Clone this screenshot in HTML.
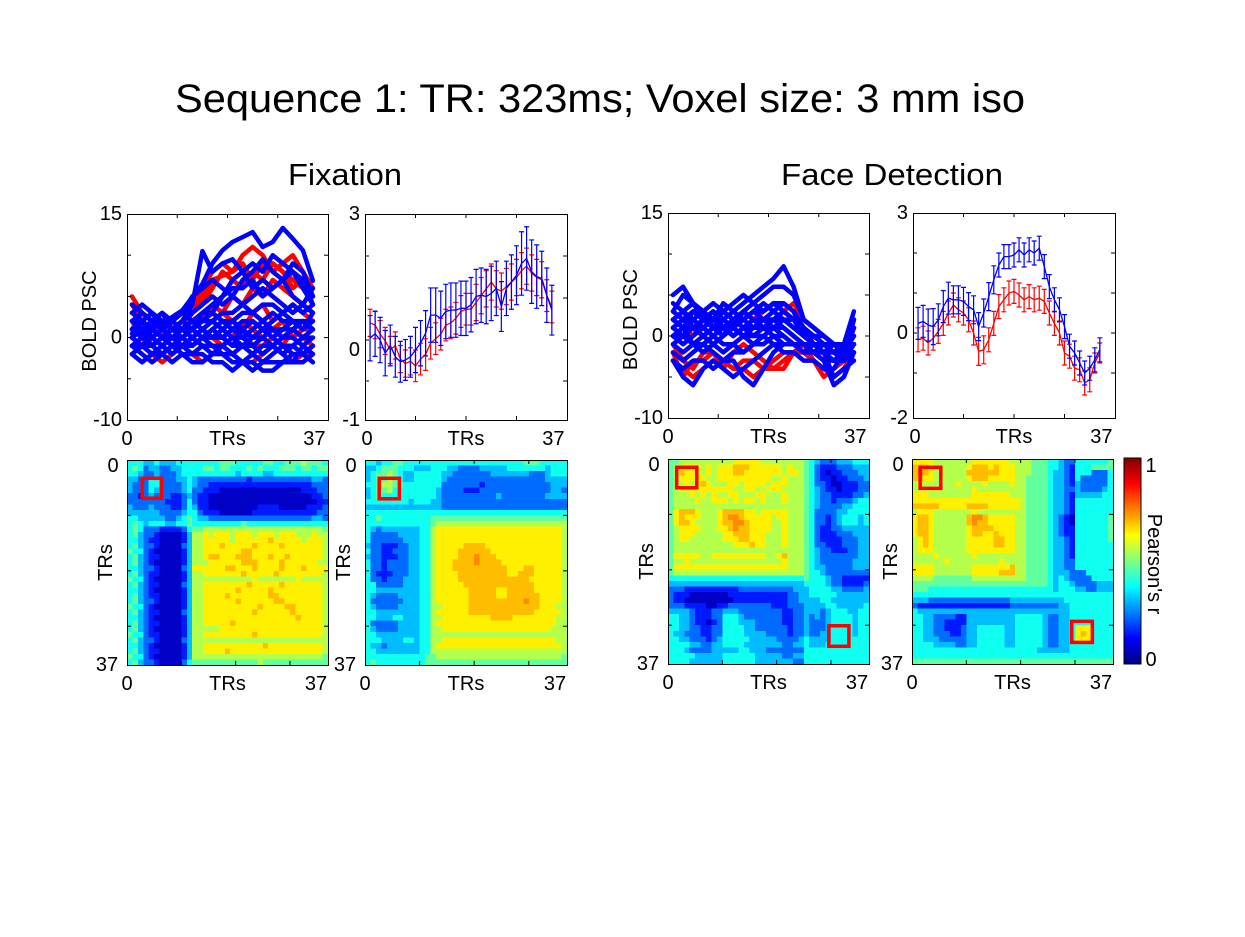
<!DOCTYPE html>
<html><head><meta charset="utf-8"><style>
html,body{margin:0;padding:0;background:#fff;}
svg{display:block;font-family:"Liberation Sans",Arial,sans-serif;}
</style></head><body>
<svg id="fig" width="1245" height="937" viewBox="0 0 1245 937" xmlns="http://www.w3.org/2000/svg">
<rect x="0" y="0" width="1245" height="937" fill="#fff"/>
<text x="175" y="112" font-size="40" textLength="850" lengthAdjust="spacingAndGlyphs">Sequence 1: TR: 323ms; Voxel size: 3 mm iso</text>
<text x="288" y="185" font-size="31" textLength="114" lengthAdjust="spacingAndGlyphs">Fixation</text>
<text x="781" y="185" font-size="31" textLength="222" lengthAdjust="spacingAndGlyphs">Face Detection</text>
<g id="layer"></g>
</svg>
<script>
// ---------- DATA ----------
const TR_SPAGHETTI = [1,3,5,7,9,11,13,15,17,19,21,23,25,27,29,31,33,35,37];
const TR_MEAN = [1,2,3,4,5,6,7,8,9,10,11,12,13,14,15,16,17,18,19,20,21,22,23,24,25,26,27,28,29,30,31,32,33,34,35,36,37];

const fixRedLines = [
 [1,3,2,0,1,2,4,6,8,9,8,10,11,10,8,9,10,8,6],
 [2,0,1,2,1,2,3,5,7,7.5,8,9,7,9,9,8,7,6,5],
 [0,1,-1,0,-1,0,1,2,4,3,5,4,6,5,7,6,5,4,3],
 [-2,-1,-2,-3,-2,-1,-2,-3,-2,-1,-2,-3,-3,-2,-1,-2,-3,-2,-2],
 [1,2,0,1,0,1,0,1,0,1,0,2,1,0,1,2,0,1,1],
 [0,-1,1,0,-1,-1,0,1,0,-1,0,1,-1,-1,0,-1,1,0,-1],
 [4,2,1,0,2,1,3,4,6,8,7,6,8,7,9,8,6,7,5],
 [5,3,2,1,0,-1,0,1,2,3,2,1,3,4,2,3,4,3,2]
];
const fixBlueLines = [
 [0.5,0.9,1.3,1.7,2.5,3.3,4.9,6.5,9,10.6,11.6,12.2,12.8,11,11.6,13.3,12,10.6,6.9],
 [1,0.5,1,0,1,2,4,10.5,8,9,9.5,8,9,8,10,9,8,6,4],
 [2,3,2,1,2,3,5,6,7,6,5,7,8,9.5,8,7,9,8,5],
 [3,4,3,2,1,2,3,4,5,4,5,4,5,6,5,4,3,4,3],
 [0,1,2,1,0,1,2,2,3,2,2,3,3,2,3,2,2,1,2],
 [-1,0,1,0,-1,0,1,0,1,2,1,0,1,2,1,0,1,2,1],
 [-2,-1,-2,-1,-2,-1,-2,-1,-1,-2,-2,-3,-2,-3,-2,-1,-2,-2,-1],
 [-1,-2,-3,-2,-1,-2,-3,-3,-2,-2,-3,-3,-4,-3,-3,-3,-2,-2,-3],
 [1,0,-1,0,1,0,-1,0,0,1,0,-1,-1,0,-1,0,0,-1,0],
 [2,1,2,3,2,1,0,1,2,1,2,1,0,1,2,3,2,1,3],
 [0,2,1,0,0,1,1,3,4,5,6,6,7,5,6,7,5,4,6],
 [-1,-1,0,1,0,-1,-1,0,-1,-1,0,0,-1,-2,-1,-2,-3,-1,-2],
 [1,2,0,-1,0,0,1,2,3,5,7,8,6,7,6,7,8,7,4],
 [4,3,2,3,1,2,1,2,2,3,3,4,3,4,4,3,4,3,4],
 [3,2,3,1,0,0,-1,0,1,0,-1,-1,0,1,0,-1,-1,0,1],
 [-2,-3,-2,-2,-3,-2,-2,-2,-3,-3,-4,-3,-3,-4,-4,-3,-3,-3,-2],
 [0,-1,-1,-2,-1,-1,0,-1,-2,-1,-2,-1,-2,-1,-1,-2,-1,-2,-1],
 [2,2,1,2,2,3,2,3,3,2,1,2,2,1,1,0,1,2,2],
 [-1,0,0,-1,-2,-1,0,1,0,0,-1,1,2,1,0,1,1,0,0],
 [1,1,2,2,1,1,2,1,0,0,1,1,0,0,1,1,2,2,1]
];
const faceRedLines = [
 [-3,-4,-5,-4,-3,-3,-4,-3,-3,-4,-4,-3,-2,-2,-3,-4,-5,-4,-2],
 [-1,-3,-4,-2,-2,-4,-2,-1,-2,-3,-4,-4,-2,-1,-3,-5,-4,-3,1],
 [0,1,0,2,1,3,2,1,2,3,4,3,2,1,0,-1,-2,-3,2],
 [2,3,1,0,1,0,2,3,2,1,2,3,4,2,1,0,-1,-2,0],
 [-2,-5,-3,-3,-2,-3,-4,-4,-5,-4,-3,-2,-2,-2,-3,-4,-4,-3,-3]
];
const faceBlueLines = [
 [5,6,4,2,3,2,3,4,5,6,7,8.5,6,2,1,0,-1,-2,2],
 [3,5,4,3,4,3,4,5,4,5,6,6,5,2,1,0,-1,-1,3],
 [-3,-5,-6,-4,-3,-4,-5,-4,-3,-2,-1,-1,-1,-1,-2,-3,-6,-5,-2],
 [-3,-4,-3,-3,-4,-3,-3,-5,-6,-4,-2,-1,-1,-1,-2,-2,-5,-4,-3],
 [1,2,1,2,3,2,1,2,3,2,3,2,1,0,0,-1,-1,-2,-1],
 [0,-1,0,1,0,1,0,1,2,1,1,0,-1,-1,-2,-2,-2,-3,-2],
 [2,3,2,1,2,3,2,3,4,3,4,3,2,1,0,0,-1,-2,0],
 [-1,-2,-1,0,-1,0,1,0,0,1,0,-1,-1,-2,-2,-3,-3,-3,-2],
 [4,3,4,3,2,4,3,2,3,4,3,4,3,0,-1,-1,-2,-1,1],
 [-2,-3,-2,-1,-2,-3,-2,-2,-1,-1,0,0,-1,-2,-1,-2,-3,-3,-1],
 [1,0,2,3,1,0,2,1,1,2,2,1,0,-1,-1,-1,-2,-1,0],
 [0,1,-1,-2,-1,-2,-1,0,-1,0,-1,-2,-2,-3,-3,-4,-4,-2,-1],
 [2,1,3,2,1,2,1,3,2,2,1,2,2,1,-1,-2,-2,-2,1],
 [3,2,1,2,3,1,2,2,3,3,4,4,3,1,0,-1,-2,-2,2],
 [1,2,3,2,1,1,2,2,1,2,2,3,2,0,0,-1,-1,-1,0],
 [-1,0,-1,-1,0,-1,-1,-2,-1,-1,0,-1,-1,-2,-2,-2,-3,-2,-1],
 [2,1,1,0,1,2,1,0,1,1,2,2,1,0,-1,-2,-1,-1,1],
 [0,0,1,1,2,1,0,1,0,0,1,1,0,-1,-2,-1,-2,-3,-1]
];

const fixMeanRed = [0.6,0.55,0.35,0.2,0.0,0.1,-0.2,-0.3,-0.25,-0.35,-0.2,-0.1,0.15,0.25,0.35,0.55,0.6,0.7,0.85,0.9,0.9,1.05,1.2,1.35,1.5,1.35,1.3,1.4,1.5,1.6,1.75,1.85,1.7,1.6,1.55,1.2,0.95];
const fixErrRed = [0.3,0.3,0.3,0.3,0.3,0.3,0.3,0.3,0.3,0.35,0.35,0.35,0.35,0.35,0.35,0.35,0.35,0.35,0.35,0.35,0.35,0.4,0.4,0.4,0.4,0.4,0.4,0.4,0.4,0.4,0.4,0.4,0.4,0.4,0.4,0.35,0.35];
const fixMeanBlue = [0.26,0.36,0.22,-0.07,0.1,-0.15,-0.26,-0.22,-0.15,0.0,0.15,0.37,0.77,0.77,0.7,0.85,0.88,0.88,0.92,0.92,1.0,1.18,1.21,1.18,1.25,1.36,0.96,1.36,1.5,1.65,1.91,2.02,1.73,1.62,1.58,1.21,0.88];
const fixErrBlue = [0.5,0.5,0.5,0.5,0.45,0.45,0.45,0.45,0.45,0.5,0.5,0.5,0.6,0.6,0.6,0.6,0.6,0.6,0.6,0.6,0.6,0.6,0.6,0.6,0.6,0.6,0.55,0.6,0.6,0.65,0.7,0.7,0.7,0.7,0.6,0.6,0.55];
const faceMeanRed = [-0.17,-0.13,-0.25,-0.13,0.04,0.24,0.5,0.7,0.58,0.5,0.33,0.0,-0.46,-0.42,-0.17,0.24,0.66,0.83,1.0,1.04,0.95,0.83,0.91,0.83,0.87,0.79,0.5,0.24,0.0,-0.5,-0.58,-0.88,-0.92,-1.25,-1.17,-0.75,-0.5];
const faceErrRed = [0.3,0.3,0.3,0.3,0.3,0.3,0.3,0.3,0.3,0.3,0.3,0.3,0.35,0.35,0.3,0.3,0.3,0.3,0.3,0.3,0.3,0.3,0.3,0.3,0.3,0.3,0.3,0.3,0.3,0.3,0.3,0.3,0.3,0.3,0.3,0.25,0.25];
const faceMeanBlue = [0.24,0.29,0.2,0.16,0.33,0.66,0.87,0.83,0.83,0.79,0.66,0.58,0.16,0.5,0.91,1.33,1.7,1.91,1.91,1.95,2.08,1.95,2.08,2.0,2.12,1.66,1.16,0.83,0.58,0.16,-0.33,-0.5,-0.75,-1.0,-0.88,-0.67,-0.42];
const faceErrBlue = [0.4,0.4,0.4,0.45,0.4,0.4,0.4,0.35,0.35,0.35,0.35,0.35,0.35,0.35,0.35,0.35,0.3,0.3,0.3,0.3,0.3,0.3,0.3,0.3,0.3,0.3,0.3,0.3,0.3,0.3,0.3,0.3,0.3,0.3,0.3,0.3,0.3];

// heatmap level codes: digit -> Pearson's r
const LEVELS = [0.07,0.15,0.23,0.31,0.39,0.47,0.55,0.64,0.69,0.74];
const heatFixLeft = [
 "44"+"4"+"33433344"+"44"+"444455544444554455565554",
 "45"+"4"+"23322334"+"44"+"455455444545444555455455",
 "44"+"3"+"22322234"+"44"+"444444434444334444444444",
 "33"+"2"+"24422233"+"43"+"222222222122222222222332",
 "32"+"2"+"24422223"+"43"+"221111111111111111111222",
 "32"+"2"+"24322223"+"42"+"211100000000000000011122",
 "22"+"1"+"23222112"+"32"+"110000000000000000000112",
 "22"+"2"+"22221112"+"42"+"110000000000000000000011",
 "32"+"2"+"23222112"+"43"+"110000000001111000001112",
 "33"+"3"+"33322223"+"44"+"211100000011111111111122",
 "44"+"3"+"33332234"+"54"+"332222222222222222222332",
 "45"+"4"+"34443344"+"54"+"444444445444444444444444",
 "45"+"4"+"22211112"+"45"+"566666666666666666666665",
 "45"+"3"+"22100001"+"36"+"676777677767776777666766",
 "44"+"3"+"21100001"+"36"+"677777677777787777767776",
 "45"+"3"+"22100002"+"36"+"677787777787777877777776",
 "54"+"4"+"21000001"+"36"+"677777778877777777777776",
 "45"+"3"+"21100001"+"36"+"678877788877787787777776",
 "45"+"3"+"21000001"+"36"+"667777778887777877777766",
 "44"+"3"+"22100002"+"37"+"777778877787777877787777",
 "45"+"3"+"21100001"+"36"+"677777778777778777777776",
 "54"+"4"+"21000001"+"36"+"666666666676666666766666",
 "45"+"3"+"21100002"+"36"+"677777777877777877777776",
 "44"+"3"+"21000001"+"36"+"677777787777787777777776",
 "45"+"3"+"21100001"+"36"+"677778777777788777777776",
 "45"+"3"+"22100001"+"36"+"677777787777778877777776",
 "54"+"4"+"21000001"+"36"+"677777777778777788777776",
 "45"+"3"+"21100002"+"36"+"677777777787777778777776",
 "44"+"3"+"21000001"+"36"+"677777777777777777877776",
 "45"+"3"+"21100001"+"36"+"677777877777777777777776",
 "45"+"3"+"21000001"+"36"+"666677777777777777777776",
 "54"+"4"+"21100001"+"36"+"677777777787777777777776",
 "45"+"3"+"22100002"+"36"+"666666666666666666666666",
 "44"+"3"+"21000001"+"36"+"677777777777877777777776",
 "45"+"3"+"21100001"+"36"+"677778777777777777777776",
 "54"+"4"+"21000001"+"36"+"666666666666666666666665",
 "45"+"3"+"22100002"+"45"+"555555555556555555555555"
];
const heatFixRight = [
 "443445544444"+"4444444444444444455544444",
 "334555444333"+"4443322223333344444443444",
 "345565433444"+"4433222222233333332223444",
 "345565433444"+"4432222222222222222223333",
 "445665544444"+"4422222221222222222222333",
 "345564444444"+"4322221112222222222222332",
 "345444444444"+"4322222222223222222223333",
 "444444443444"+"3322222222222222222222222",
 "333333333333"+"3322222222222222222222222",
 "444444444444"+"4444444444444444444444444",
 "445444444444"+"5555555555555555555555555",
 "444444444444"+"5666666666666666666666666",
 "432333333344"+"6777777777777777777777776",
 "422222333344"+"6777777777777777777777776",
 "422222233344"+"6777777777777777777777776",
 "322111223344"+"6777778888777777777777776",
 "422112223344"+"6777788888877777777777776",
 "322111223344"+"6777788898887777777777776",
 "422122223344"+"6777888898888777777777776",
 "422122223344"+"6777888888888877788777776",
 "421112223344"+"6777788888888877888777776",
 "422122233344"+"6777788888888888887777776",
 "442222233344"+"6777778888888888888777776",
 "443333333344"+"6777777888887788888777776",
 "432222333344"+"6777777888887788888877776",
 "422222233344"+"6777777888888888898877776",
 "432222333344"+"6677777888888888888877766",
 "443333333344"+"6777777888888888888777776",
 "443334433344"+"6677777777788887777777766",
 "422222333344"+"6777777777777777777777766",
 "432222333344"+"6677777777777777777777666",
 "443333333344"+"6666666666666666666666666",
 "444333344344"+"6677777777777777777777766",
 "433233333344"+"6777777777777777777777776",
 "443333333344"+"6666666666666666666666666",
 "444444444445"+"5666666666666666666666665",
 "454444444445"+"5555555555555555555555555"
];
const heatFaceLeft = [
 "55666666666677777666666665"+"43222333444",
 "56777767677788877777767665"+"42111222333",
 "56877767677788777777767765"+"42101122233",
 "56777776677777777776676665"+"42110112223",
 "56676787666776777767776665"+"42210011122",
 "56777777777766776677766665"+"43211011122",
 "56667676766776667766676665"+"43221111223",
 "56666766777676776766676665"+"43221222344",
 "56666666666666666666666665"+"43222233444",
 "57888766678888776777776665"+"42222334444",
 "57877766678998777776776665"+"42212344434",
 "57887666678899877776676665"+"42212344434",
 "56777766677898877776676665"+"42112233333",
 "56777666667788877766676665"+"42111222333",
 "56776666667778877766676665"+"42111122233",
 "56666666666677787766676665"+"42211122233",
 "56666666666666666666666665"+"43221112233",
 "57777766777777777766786665"+"43222222233",
 "56676666666666666666676665"+"43222222333",
 "57777777777777777777776665"+"43322222333",
 "56666666666666666666666665"+"44322222222",
 "44444444444444444444444445"+"44432211111",
 "33333333333333333333333334"+"44432211112",
 "22211111111112222222222333"+"44443322223",
 "21110000000111111111112233"+"44444333333",
 "21100000000011111111112233"+"33443333333",
 "22211110011222222221112223"+"33344333334",
 "33332111223332222222211223"+"33234443344",
 "44332111224443222222211223"+"23234444344",
 "44332110124443332222211223"+"22234444344",
 "44332211224444332222221223"+"22234444344",
 "43322211224444333322221223"+"22334444344",
 "44332221234444433333222234"+"33334444444",
 "44443322334444333333322334"+"33344444444",
 "44432222333334433322222224"+"44444444444",
 "44444333334444443333322334"+"44444444444",
 "44443333334444443333333224"+"44444444444"
];
const heatFaceRight = [
 "777766666667777777666655544"+"3224444445",
 "888766666678887877766655544"+"3214445555",
 "898766666688888877766655543"+"3214442224",
 "887766666678887777766555543"+"3214222224",
 "676666667666676666766555543"+"3213222224",
 "666676666667666666666555543"+"3223222234",
 "777666666667777777666555543"+"3213333344",
 "777777777777777777776555543"+"3214444444",
 "888887777788887777776555543"+"3214444444",
 "677766666667666666666555543"+"3214444444",
 "788766666689987777766555543"+"2104444445",
 "788766666689887777766555543"+"2104444445",
 "788766666678888777766555543"+"2114444445",
 "788766666678877877766555543"+"2114444445",
 "678766666677777887766555543"+"3214444445",
 "678766666677777887766555543"+"3214444444",
 "677766666677777777766555543"+"3214444444",
 "666676666667666666666555543"+"3214444444",
 "666666766666666676666555543"+"3224444444",
 "777766666667777777866555543"+"3224444444",
 "777766666667777788866555543"+"3322244444",
 "666655555556666666666555543"+"4322224444",
 "555555555555555555555555543"+"4432222333",
 "555444444444444444444444443"+"4443322333",
 "444444444444444444444444444"+"4444444444",
 "333222222222222222333333333"+"3444444444",
 "211111111111111111222222222"+"3344444444",
 "433333333333333333333333333"+"3344444444",
 "443322221133333333344444322"+"3344444444",
 "443322111133333333344444322"+"3344444444",
 "443322111233444443344444322"+"3347774444",
 "443322211233444443344444322"+"3347874444",
 "443332222233444443344444322"+"3347774444",
 "444433332233444443344444322"+"3344444444",
 "444444444444444444444443333"+"3344444444",
 "444444444444444444444444444"+"4444444444",
 "555555555555555555555555555"+"5555555555"
];
// highlighted TR windows (cell coords: col, row, size)
const boxFixLeft = [[2.8,3.3,3.6]];
const boxFixRight = [[2.6,3.3,3.7]];
const boxFaceLeft = [[1.6,1.5,3.7],[29.6,30.1,3.7]];
const boxFaceRight = [[1.5,1.5,3.8],[29.4,29.3,3.8]];

// ---------- RENDER ----------
const NS = "http://www.w3.org/2000/svg";
const layer = document.getElementById('layer');
function mk(tag, attrs, parent){const e=document.createElementNS(NS,tag);for(const k in attrs)e.setAttribute(k,attrs[k]);(parent||layer).appendChild(e);return e;}
function label(x,y,txt,anchor,name,size,rot){
  const t=mk('text',{x:x,y:y,'font-size':size||20,'text-anchor':anchor||'middle','dominant-baseline':'central'});
  if(rot) t.setAttribute('transform','rotate('+rot+' '+x+' '+y+')');
  t.textContent=txt;
  
  
  return t;
}
function jet(v){const c=x=>Math.max(0,Math.min(1,x));const r=c(1.5-Math.abs(4*v-3)),g=c(1.5-Math.abs(4*v-2)),b=c(1.5-Math.abs(4*v-1));return 'rgb('+Math.round(r*255)+','+Math.round(g*255)+','+Math.round(b*255)+')';}

function axesBox(L,T,W,H,name,xt,yt){
  const g=mk('g',{});
  
  
  mk('rect',{x:L+0.5,y:T+0.5,width:W,height:H,fill:'none',stroke:'#000','stroke-width':1},g);
  xt.forEach(x=>{mk('line',{x1:x,x2:x,y1:T,y2:T+4,stroke:'#000'},g);mk('line',{x1:x,x2:x,y1:T+H,y2:T+H-4,stroke:'#000'},g);});
  yt.forEach(y=>{mk('line',{x1:L,x2:L+4,y1:y,y2:y,stroke:'#000'},g);mk('line',{x1:L+W,x2:L+W-4,y1:y,y2:y,stroke:'#000'},g);});
  return g;
}

function spaghetti(cfg){
  const {L,T,W,H,ymin,ymax,red,blue,name,clip}=cfg;
  const xs=t=>L+t/40*W, ys=v=>T+(ymax-v)/(ymax-ymin)*H;
  const cp=mk('clipPath',{id:clip});mk('rect',{x:L,y:T,width:W,height:H},cp);
  const g=mk('g',{'clip-path':'url(#'+clip+')'});
  
  
  const draw=(arr,col,nm)=>arr.forEach((s,i)=>{
    const p=mk('polyline',{points:s.map((v,j)=>xs(TR_SPAGHETTI[j]).toFixed(1)+','+ys(v).toFixed(1)).join(' '),fill:'none',stroke:col,'stroke-width':4.5,'stroke-linejoin':'round','stroke-linecap':'round'},g);
    
    
  });
  draw(red,'#ff0000','red-voxel-trace');
  draw(blue,'#0000ff','blue-voxel-trace');
  axesBox(L,T,W,H,name+'-axes',[10,20,30].map(xs),[-5,0,5,10].map(ys));
  label(L-5,T,String(ymax),'end',name+'-ytick-top');
  label(L-5,ys(0),'0','end',name+'-ytick-zero');
  label(L-5,T+H,String(ymin),'end',name+'-ytick-bottom');
  label(L,T+H+19,'0','middle',name+'-xtick-0');
  label(xs(20),T+H+19,'TRs','middle',name+'-xlabel');
  label(xs(37.3),T+H+19,'37','middle',name+'-xtick-37');
  label(L-37,T+H/2+4,'BOLD PSC','middle',name+'-ylabel',20,-90);
}
spaghetti({L:127,T:214,W:201,H:206,ymin:-10,ymax:15,red:fixRedLines,blue:fixBlueLines,name:'fixation-voxels',clip:'c1'});
spaghetti({L:668,T:213,W:201,H:205,ymin:-10,ymax:15,red:faceRedLines,blue:faceBlueLines,name:'face-voxels',clip:'c2'});

function meanPanel(cfg){
  const {L,T,W,H,y0,ppu,red,redErr,blue,blueErr,name,top,bot,ticks}=cfg;
  const xs=t=>L+t/40*W, ys=v=>y0-v*ppu;
  const cp=mk('clipPath',{id:name+'-clip'});mk('rect',{x:L,y:T,width:W,height:H},cp);
  const g=mk('g',{'clip-path':'url(#'+name+'-clip)'});
  
  
  const series=(m,e,col,nm)=>{
    m.forEach((v,i)=>{
      const x=xs(TR_MEAN[i]);
      const b=mk('path',{d:'M'+x+','+ys(v-e[i])+'V'+ys(v+e[i])+'M'+(x-2.5)+','+ys(v-e[i])+'h5M'+(x-2.5)+','+ys(v+e[i])+'h5',stroke:col,'stroke-width':1.2,fill:'none'},g);
      
      
    });
    const p=mk('polyline',{points:m.map((v,i)=>xs(TR_MEAN[i]).toFixed(1)+','+ys(v).toFixed(1)).join(' '),fill:'none',stroke:col,'stroke-width':1.3},g);
    
    
  };
  series(red,redErr,'#ff0000','red-mean');
  series(blue,blueErr,'#0000ff','blue-mean');
  axesBox(L,T,W,H,name+'-axes',[10,20,30].map(xs),ticks);
  label(L-5,T,top,'end',name+'-ytick-top');
  label(L-5,ys(0),'0','end',name+'-ytick-zero');
  label(L-5,T+H,bot,'end',name+'-ytick-bottom');
  label(L+2,T+H+19,'0','middle',name+'-xtick-0');
  label(xs(20),T+H+19,'TRs','middle',name+'-xlabel');
  label(xs(37.3),T+H+19,'37','middle',name+'-xtick-37');
}
meanPanel({L:365,T:214,W:202,H:206,y0:350,ppu:45.3,red:fixMeanRed,redErr:fixErrRed,blue:fixMeanBlue,blueErr:fixErrBlue,name:'fixation-mean',top:'3',bot:'-1',ticks:[256,298,340,381]});
meanPanel({L:913,T:213,W:202,H:205,y0:333,ppu:40,red:faceMeanRed,redErr:faceErrRed,blue:faceMeanBlue,blueErr:faceErrBlue,name:'face-mean',top:'3',bot:'-2',ticks:[253,293,333,373]});

function heatmap(cfg){
  const {L,T,W,H,rows,boxes,name}=cfg;
  const n=37, cw=W/n, ch=H/n;
  const g=mk('g',{'shape-rendering':'crispEdges'});
  
  
  rows.forEach((row,r)=>{
    let s=row; while(s.length<n) s+=s[s.length-1]; s=s.slice(0,n);
    for(let c=0;c<n;c++){
      const v=LEVELS[parseInt(s[c],10)];
      const rc=mk('rect',{x:(L+c*cw).toFixed(2),y:(T+r*ch).toFixed(2),width:(cw+0.6).toFixed(2),height:(ch+0.6).toFixed(2),fill:jet(v)},g);
      
      
    }
  });
  boxes.forEach((b,i)=>{
    const bx=mk('rect',{x:L+b[0]*cw,y:T+b[1]*ch,width:b[2]*cw,height:b[2]*ch,fill:'none',stroke:'#ff0000','stroke-width':3.5});
    
    
  });
  const tk=[10,20,30];
  axesBox(L,T,W,H,name+'-axes',tk.map(t=>L+t*cw),tk.map(t=>T+t*ch));
  label(L-14,T+6,'0','middle',name+'-ytick-0');
  label(L-20,T+H,'37','middle',name+'-ytick-37');
  label(L-21,T+H/2,'TRs','middle',name+'-ylabel',20,-90);
  label(L,T+H+19,'0','middle',name+'-xtick-0');
  label(L+W/2,T+H+19,'TRs','middle',name+'-xlabel');
  label(L+W-12,T+H+19,'37','middle',name+'-xtick-37');
}
heatmap({L:127,T:460,W:201,H:205,rows:heatFixLeft,boxes:boxFixLeft,name:'fixation-corr-left'});
heatmap({L:365,T:460,W:202,H:205,rows:heatFixRight,boxes:boxFixRight,name:'fixation-corr-right'});
heatmap({L:668,T:459,W:201,H:205,rows:heatFaceLeft,boxes:boxFaceLeft,name:'face-corr-left'});
heatmap({L:912,T:459,W:201,H:205,rows:heatFaceRight,boxes:boxFaceRight,name:'face-corr-right'});

(function(){
  const L=1124,T=458,W=17,H=206;
  const defs=mk('defs',{});
  const lg=mk('linearGradient',{id:'jetgrad',x1:0,y1:1,x2:0,y2:0},defs);
  for(let i=0;i<=16;i++){const v=i/16;mk('stop',{offset:v,'stop-color':jet(v)},lg);}
  const r=mk('rect',{x:L,y:T,width:W,height:H,fill:'url(#jetgrad)',stroke:'#000','stroke-width':1});
  
  
  label(L+W+10,T+8,'1','middle','colorbar-tick-1');
  label(L+W+10,T+H-4,'0','middle','colorbar-tick-0');
  label(L+W+13,T+106,"Pearson's r",'middle','colorbar-label',20,90);
})();
</script>
</body></html>
